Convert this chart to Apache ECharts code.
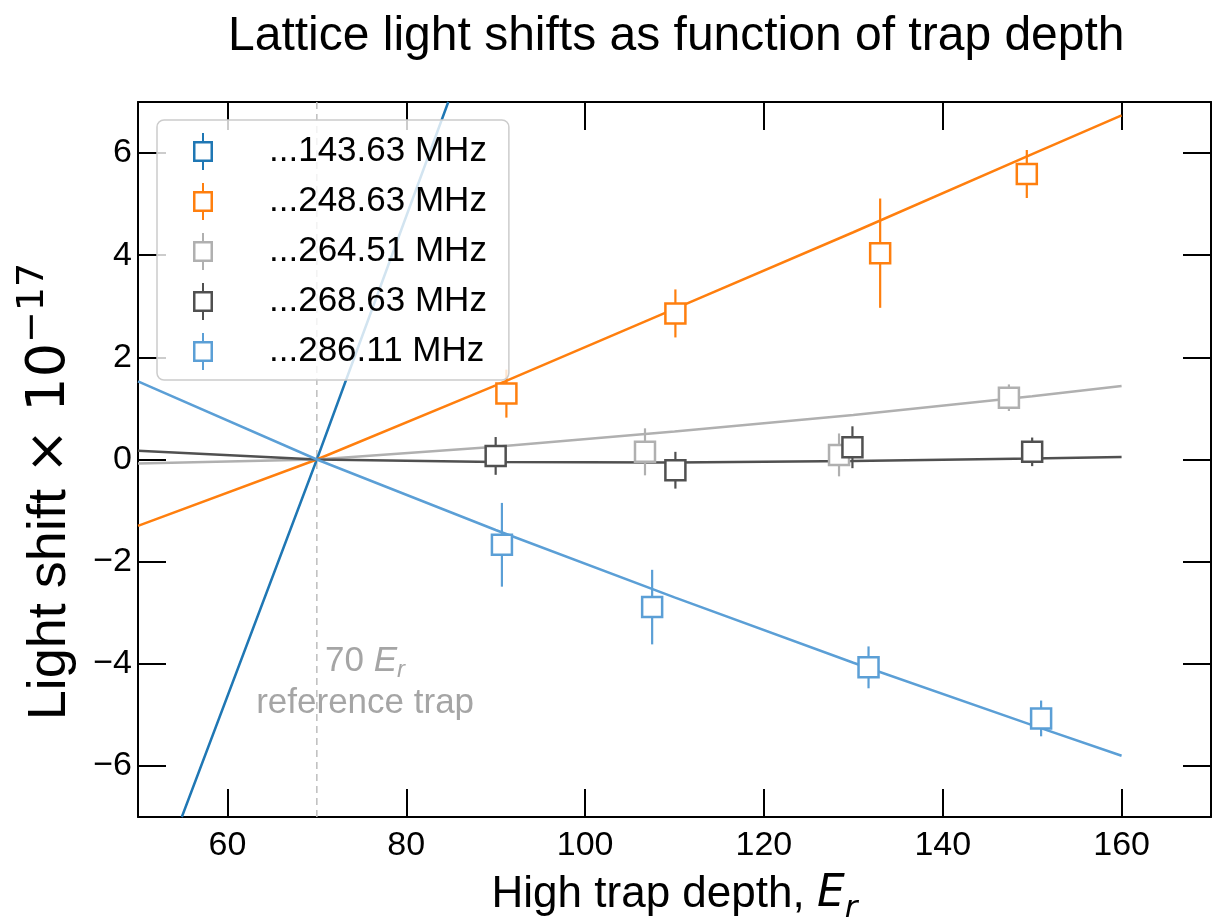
<!DOCTYPE html>
<html><head><meta charset="utf-8">
<script src="https://cdn.jsdelivr.net/npm/echarts@6/dist/echarts.min.js"></script>
<style>html,body{margin:0;padding:0;background:#fff}#c{width:1214px;height:922px}</style>
</head><body><div id="c"></div>
<script>
// ---- data ----
const seriesNames = ['...143.63 MHz', '...248.63 MHz', '...264.51 MHz', '...268.63 MHz', '...286.11 MHz'];
const seriesColors = ['#1f77b4', '#ff7f0e', '#b0b0b0', '#505050', '#5b9fd6'];

// fitted curves
const fitX0 = [54.9, 70, 84.7];
const fitY0 = [-7, 0, 7];
const fitX1 = [50, 70, 90, 110, 130, 150, 160];
const fitY1 = [-1.3, 0, 1.45, 2.95, 4.45, 5.98, 6.74];
const fitX2 = [50, 70, 90, 110, 130, 150, 160];
const fitY2 = [-0.08, 0, 0.25, 0.55, 0.87, 1.24, 1.44];
const fitX3 = [50, 70, 90, 110, 130, 150, 160];
const fitY3 = [0.17, 0, -0.05, -0.06, -0.03, 0.02, 0.05];
const fitX4 = [50, 70, 90, 110, 130, 150, 160];
const fitY4 = [1.53, 0, -1.38, -2.70, -3.98, -5.20, -5.80];

// measured points with error bars
const ptX0 = [], ptY0 = [], ptE0 = [];
const ptX1 = [91.2, 110.1, 133.0, 149.4];
const ptY1 = [1.29, 2.86, 4.04, 5.59];
const ptE1 = [0.47, 0.47, 1.07, 0.47];
const ptX2 = [106.7, 128.4, 147.4];
const ptY2 = [0.15, 0.09, 1.21];
const ptE2 = [0.46, 0.42, 0.26];
const ptX3 = [90.0, 110.1, 129.9, 150.0];
const ptY3 = [0.07, -0.21, 0.24, 0.15];
const ptE3 = [0.37, 0.36, 0.41, 0.28];
const ptX4 = [90.7, 107.5, 131.7, 151.0];
const ptY4 = [-1.67, -2.89, -4.07, -5.07];
const ptE4 = [0.82, 0.73, 0.41, 0.35];

const xTicks = [60, 80, 100, 120, 140, 160];
const yTicks = [-6, -4, -2, 0, 2, 4, 6];
const refTrapX = 70;
const annotX = 75.4, annotY = -4.37;

// ---- build ----
const FONT = '"Liberation Sans", Arial, sans-serif';
const MATH = '"DejaVu Sans", sans-serif';
const fitsX = [fitX0, fitX1, fitX2, fitX3, fitX4];
const fitsY = [fitY0, fitY1, fitY2, fitY3, fitY4];
const ptsX = [ptX0, ptX1, ptX2, ptX3, ptX4];
const ptsY = [ptY0, ptY1, ptY2, ptY3, ptY4];
const ptsE = [ptE0, ptE1, ptE2, ptE3, ptE4];

const legendIcon = 'path://M1 8 L21 8 L21 29 L1 29 Z M3.5 10.5 L3.5 26.5 L18.5 26.5 L18.5 10.5 Z M10 0 L12 0 L12 8 L10 8 Z M10 29 L12 29 L12 37 L10 37 Z';

const series = [];
series.push({
  type: 'line', name: 'ref', data: [[refTrapX, -7], [refTrapX, 7]], showSymbol: false, symbol: 'none',
  lineStyle: { color: '#bdbdbd', width: 1.5, type: [7, 5] }, z: 1, silent: true
});
for (let i = 0; i < 5; i++) {
  series.push({
    type: 'line', name: 'fit' + i, data: fitsX[i].map((x, k) => [x, fitsY[i][k]]),
    showSymbol: false, symbol: 'none', color: seriesColors[i],
    lineStyle: { color: seriesColors[i], width: 2.5 }, z: 2, silent: true, animation: false
  });
}
for (let i = 0; i < 5; i++) {
  const c = seriesColors[i];
  series.push({
    type: 'custom', name: seriesNames[i], itemStyle: { color: c }, z: 3, clip: true, animation: false,
    data: ptsX[i].map((x, k) => [x, ptsY[i][k], ptsE[i][k]]),
    encode: { x: 0, y: 1 },
    renderItem: function (params, api) {
      const x = api.value(0), y = api.value(1), e = api.value(2);
      const p = api.coord([x, y]), lo = api.coord([x, y - e]), hi = api.coord([x, y + e]);
      const s = 20;
      return {
        type: 'group', children: [
          { type: 'line', shape: { x1: p[0], y1: hi[1], x2: p[0], y2: lo[1] }, style: { stroke: c, lineWidth: 2.2 } },
          { type: 'rect', shape: { x: p[0] - s / 2, y: p[1] - s / 2, width: s, height: s }, style: { fill: '#fff', stroke: c, lineWidth: 2.5 } }
        ]
      };
    }
  });
}
series.push({
  type: 'scatter', name: 'annot', data: [[annotX, annotY]], symbolSize: 0, z: 4, silent: true,
  label: {
    show: true, position: 'inside', align: 'center', verticalAlign: 'middle',
    formatter: '{a|70 }{e|E}{s|r}\n{a|reference trap}',
    rich: {
      a: { fontSize: 35, color: '#8e8e8e', fontFamily: FONT, lineHeight: 42 },
      e: { fontSize: 35, color: '#8e8e8e', fontFamily: FONT, fontStyle: 'italic', lineHeight: 42 },
      s: { fontSize: 24, color: '#8e8e8e', fontFamily: FONT, fontStyle: 'italic', lineHeight: 24, verticalAlign: 'bottom' }
    }
  }
});

const fmtMinus = v => String(v).replace('-', '\u2212');
const tickStyle = { lineStyle: { color: '#000', width: 2 } };

const option = {
  backgroundColor: '#fff',
  animation: false,
  title: {
    text: 'Lattice light shifts as function of trap depth',
    left: 228, top: 13, padding: 0,
    textStyle: { fontSize: 48, fontWeight: 'normal', color: '#000', fontFamily: FONT }
  },
  legend: {
    data: seriesNames.map(n => ({ name: n, icon: legendIcon })),
    orient: 'vertical', left: 157, top: 120, selectedMode: false,
    itemWidth: 22, itemHeight: 37, itemGap: 13,
    padding: [13, 22, 10, 36],
    backgroundColor: 'rgba(255,255,255,0.8)', borderColor: '#cccccc', borderWidth: 1.5, borderRadius: 7,
    textStyle: { fontSize: 35, color: '#000', fontFamily: FONT, padding: [0, 0, 0, 50] },
    z: 10
  },
  grid: { left: 138, right: 3, top: 102, bottom: 105, containLabel: false, outerBoundsMode: 'none' },
  xAxis: [{
    type: 'value', min: 50, max: 170, position: 'bottom',
    axisLine: { onZero: false, lineStyle: { color: '#000', width: 2 } },
    axisTick: Object.assign({ inside: true, length: 28, customValues: xTicks }, tickStyle),
    axisLabel: { customValues: xTicks, fontSize: 34, color: '#000', margin: 12, fontFamily: FONT },
    splitLine: { show: false },
    name: '{n|High trap depth, }{e|E}{s|r}', nameLocation: 'middle', nameGap: 49, nameMoveOverlap: false,
    nameTextStyle: {
      rich: {
        n: { fontSize: 44, color: '#000', fontFamily: FONT, lineHeight: 58 },
        e: { fontSize: 44, color: '#000', fontFamily: MATH, fontStyle: 'italic', lineHeight: 58 },
        s: { fontSize: 31, color: '#000', fontFamily: MATH, fontStyle: 'italic', lineHeight: 31, verticalAlign: 'bottom' }
      }
    }
  }, {
    type: 'value', min: 50, max: 170, position: 'top',
    axisLine: { onZero: false, lineStyle: { color: '#000', width: 2 } },
    axisTick: Object.assign({ inside: true, length: 28, customValues: xTicks }, tickStyle),
    axisLabel: { show: false }, splitLine: { show: false }
  }],
  yAxis: [{
    type: 'value', min: -7, max: 7, position: 'left',
    axisLine: { onZero: false, lineStyle: { color: '#000', width: 2 } },
    axisTick: Object.assign({ inside: true, length: 28, customValues: yTicks }, tickStyle),
    axisLabel: { customValues: yTicks, fontSize: 34, color: '#000', margin: 6, fontFamily: FONT, formatter: fmtMinus },
    splitLine: { show: false },
    name: '{n|Light shift }{m|\u00d7 10}{p|\u221217}', nameLocation: 'middle', nameGap: 52, nameRotate: 90, nameMoveOverlap: false,
    nameTextStyle: {
      padding: [0, 64, 0, 0],
      rich: {
        n: { fontSize: 54, color: '#000', fontFamily: FONT, lineHeight: 72 },
        m: { fontSize: 54, color: '#000', fontFamily: MATH, lineHeight: 72 },
        p: { fontSize: 38, color: '#000', fontFamily: MATH, lineHeight: 38, verticalAlign: 'top' }
      }
    }
  }, {
    type: 'value', min: -7, max: 7, position: 'right',
    axisLine: { onZero: false, lineStyle: { color: '#000', width: 2 } },
    axisTick: Object.assign({ inside: true, length: 28, customValues: yTicks }, tickStyle),
    axisLabel: { show: false }, splitLine: { show: false }
  }],
  series: series
};
const chart = echarts.init(document.getElementById('c'), null, { renderer: 'canvas' });
chart.setOption(option);
</script>
</body></html>
